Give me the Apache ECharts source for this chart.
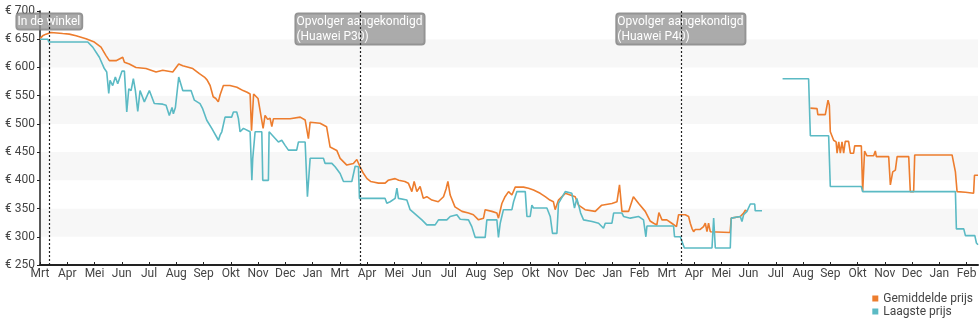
<!DOCTYPE html>
<html>
<head>
<meta charset="utf-8">
<script src="https://cdn.jsdelivr.net/npm/echarts@6/dist/echarts.min.js"></script>
<style>
html,body{margin:0;padding:0;background:#fff;}
#chart{width:980px;height:325px;}
</style>
</head>
<body>
<div id="chart"></div>
<script>
// x values are days since the start of the axis; each axis tick is 31 days apart
const tickLabels = ['Mrt','Apr','Mei','Jun','Jul','Aug','Sep','Okt','Nov','Dec','Jan',
  'Mrt','Apr','Mei','Jun','Jul','Aug','Sep','Okt','Nov','Dec','Jan','Feb',
  'Mrt','Apr','Mei','Jun','Jul','Aug','Sep','Okt','Nov','Dec','Jan','Feb'];
const tickStep = 31;
const xMax = 1067;

const yTicks = [250, 300, 350, 400, 450, 500, 550, 600, 650, 700];

const annotationDays = [10.6, 364, 729];
const annotationTexts = ['In de winkel', 'Opvolger aangekondigd\n(Huawei P30)', 'Opvolger aangekondigd\n(Huawei P40)'];

const seriesNames = ['Gemiddelde prijs', 'Laagste prijs'];

// [day, price in euro]
const gemiddeldePrijs = [
  [0,651],[3,656],[6.8,659],[12.5,662],[25.8,660],[33.3,659],[41,656],[52.3,651],[61.8,645],[69.4,636],
  [75.1,621],[78.9,612],[86.5,612],[94.1,618],[96,609],[101.6,606],[109.2,600],[120.6,598],[132,592],
  [139.6,595],[151,592],[157.8,606],[162.4,603],[173.8,598],[181.3,589],[187,583],[190,578],[193.5,568],
  [197,548],[200,545],[202.8,539],[205,552],[208.6,568],[216,568],[224,565],[231,559],[235.6,556],[239,553],
  [240.6,488],[243,553],[248,545],[250,542],[253.8,492],[256,515],[259,508],[261.7,510],[263.7,495],
  [265.5,509],[284.5,509],[296,512],[301.6,507],[305.3,474],[307.3,503],[318.6,501],[326,495],[330,459],
  [337.6,453],[341.4,439],[349,427],[356.5,430],[360.4,437],[362.4,436],[364,424],[368,412],[372,403],
  [376,398],[379,397],[385,395],[392.6,395],[396,400],[404,403],[408,400],[415,398],[419,395],[423,380],
  [425.6,398],[428.7,380],[432.4,389],[436,368],[440,371],[445.8,365],[453,362],[459,371],[462,385],
  [464,398],[466.6,374],[472,353],[480,345],[487.4,342],[493,339],[498.8,330],[504.5,333],[506.4,348],
  [514,345],[519.7,342],[521.5,333],[525.4,359],[529,371],[533,380],[536.8,374],[540.6,388],[550,388],
  [555.7,386],[561.4,383],[569,377],[574.7,371],[580,365],[584,362],[586,348],[589.8,365],[597.5,377],
  [608.8,371],[612.6,356],[620,348],[631.6,345],[639,356],[650.6,359],[656.3,362],[659.2,392],[662,345],
  [669.5,345],[675,371],[681,359],[688.5,345],[694,328],[698,324],[701.7,321],[704,343],[707.5,330],
  [713,330],[718.6,324],[720.7,324],[724,318],[726.4,339],[734,339],[737.8,336],[739.7,324],[741.6,315],
  [743.5,309],[745.4,313],[751,313],[754.8,318],[756.8,324],[758.7,309],[760.5,324],[762.5,309],
  [764.4,307.6],[785,307.6],[786.3,333],[796.6,336],[798.5,338],[800.4,342],[802.3,347],[804.2,345],
  null,
  [876.3,528],[883.9,527],[884.8,516.5],[893.3,516.5],[895.3,533],[896.4,542],[897.9,533],[899,486],
  [902.8,471],[905.6,468],[906.7,448],[908.6,468],[910.4,448],[912.3,468],[914.2,448],[916,469],
  [919.8,469],[921.8,448],[925.5,448],[926.7,461],[934.3,461],[935.8,380],[938,452],[940.7,443.5],
  [948.3,443.5],[950.2,452],[951.4,442],[965.4,442],[967.3,392],[969.2,389],[970,415],[973,418],
  [975,442],[988.2,442],[990,380],[993.8,380],[995,445],[1037.5,445],[1041.3,415],[1043.2,380],
  [1052.7,379],[1054.6,377],[1062,377],[1063,409],[1067,409]
];

const laagstePrijs = [
  [0,650],[9,650],[10,645],[54.3,645],[60,636],[67.5,618],[73.2,598],[75.9,592],[78.2,554],[79.7,577],
  [82.7,568],[85.7,583],[88.4,571],[93.3,593.5],[96,593.5],[98.7,521],[101,562],[103.6,559],[106.2,580],
  [108.5,559],[111.2,522],[113.8,559],[118.7,539],[124.4,559],[130,536],[139.6,535],[143.4,533],
  [147.1,515],[150.2,529],[151.7,518],[154,529],[157.8,583],[162.4,559],[171.8,559],[175.6,542],
  [182,536],[185,527],[189.7,506.5],[195.4,492],[203,471],[204.8,480],[206.8,486],[210.5,512],[218,512],
  [220,521],[223.8,521],[225.7,509.5],[227.6,486],[231.4,492],[239,486],[241,400],[242,439],[244.7,486],
  [252.3,486],[253.4,400],[259.8,400],[260.6,486],[271.2,468],[275,471],[278.8,462],[282.6,453.5],
  [292,453.5],[294,468],[301.6,468],[304.2,371],[307.3,439],[322.4,439],[324.3,430],[332,430],
  [335.7,424],[341.4,412],[345.2,398],[354.7,398],[358.5,425],[362.2,424],[363.4,368],[392.6,368],
  [394.5,359.4],[398.3,362],[404,368],[406,386],[407.7,368],[417.3,365],[421,348],[434.4,330],[440,321],
  [449.5,321],[453.3,330],[462.8,330],[466.6,336],[474.2,339],[478,331],[487.4,330],[491.2,318],
  [495,299],[506.4,299],[508.3,330],[519.7,330],[521.5,299],[523.5,324],[527.2,348],[536.8,348],
  [538.7,362],[542.5,380],[552,380],[553.9,336],[557.6,336],[559.5,356],[561.4,351],[576.6,351],
  [580.4,336],[583,306],[588,306],[589.8,359],[597.5,380],[605,377],[608,351],[610.7,368],[615,342],
  [618.3,330],[628,327],[635.4,324],[641,315],[643,324],[650.6,324],[652.5,342],[662,342],[663.8,336],
  [671.4,333],[673.3,336],[680.8,336],[686.5,330],[689.2,300],[690.4,319],[720.7,319],[721.8,300],
  [728.3,300],[733,280],[764.4,280],[766.3,333],[768.2,280],[785.2,280],[786.3,333],[796.6,336],
  [798.5,327],[800.4,339],[804.2,345],[808,358],[813,358],[813.6,346],[821.3,346],
  null,
  [844.7,580],[874.3,580],[876.3,479],[897.1,479],[899,389],[934.3,389],[935.8,380],[1041.3,380],
  [1042.4,314],[1050.8,314],[1052.7,302],[1063.4,302],[1065.2,289],[1067,286]
];

const colors = ['#ed7d2e', '#5bbac4'];
const tickDays = tickLabels.map((_, i) => i * tickStep);
const textColor = '#444';
const font = 'Roboto';

const chart = echarts.init(document.getElementById('chart'), null, {renderer: 'canvas'});
chart.setOption({
  animation: false,
  color: colors,
  textStyle: {fontFamily: font},
  grid: {left: 40, right: 2, top: 11, bottom: 60, containLabel: false},
  legend: {
    data: seriesNames,
    orient: 'vertical',
    right: 7,
    top: 292,
    icon: 'rect',
    itemWidth: 6,
    itemHeight: 6,
    itemGap: 0,
    padding: 0,
    textStyle: {fontFamily: font, fontSize: 12, color: textColor, lineHeight: 13}
  },
  xAxis: {
    type: 'value',
    min: 0,
    max: xMax,
    interval: tickStep,
    axisLine: {show: true, lineStyle: {color: '#222', width: 2}},
    axisTick: {show: true, inside: true, length: 3, lineStyle: {color: '#222'}, customValues: tickDays},
    axisLabel: {
      customValues: tickDays,
      margin: 3,
      color: textColor,
      fontSize: 12,
      fontFamily: font,
      formatter: v => {
        const i = Math.round(v / tickStep);
        return (Math.abs(v - i * tickStep) < 0.01 && tickLabels[i]) ? tickLabels[i] : '';
      }
    },
    splitLine: {show: false}
  },
  yAxis: {
    type: 'value',
    min: yTicks[0],
    max: yTicks[yTicks.length - 1],
    interval: yTicks[1] - yTicks[0],
    axisLine: {show: true, lineStyle: {color: '#222', width: 1.5}},
    axisTick: {show: true, length: 3, lineStyle: {color: '#222'}},
    axisLabel: {margin: 5, color: textColor, fontSize: 12, fontFamily: font, formatter: '€ {value}'},
    splitLine: {show: false},
    splitArea: {show: true, areaStyle: {color: ['#ffffff', '#f7f7f7']}}
  },
  series: [
    {
      name: seriesNames[0],
      type: 'line',
      data: gemiddeldePrijs,
      showSymbol: false,
      symbol: 'none',
      connectNulls: false,
      lineStyle: {width: 1.6, color: colors[0]},
      itemStyle: {color: colors[0]},
      z: 2,
      markLine: {
        silent: true,
        symbol: ['none', 'none'],
        label: {show: false},
        lineStyle: {type: [2, 2], color: '#222', width: 1.2},
        data: annotationDays.map(d => ({xAxis: d})),
        z: 6
      },
      markPoint: {
        silent: true,
        symbol: 'circle',
        symbolSize: 1,
        itemStyle: {color: 'rgba(0,0,0,0)'},
        z: 5,
        label: {
          show: true,
          position: 'bottom',
          distance: 2,
          backgroundColor: 'rgba(150,150,150,0.8)',
          borderColor: 'rgba(120,120,120,0.8)',
          borderWidth: 1,
          borderRadius: 3,
          padding: [1, 2, 0, 1],
          formatter: p => p.data.text.split('\n').map(s => '{t|' + s + '}').join('\n'),
          rich: {t: {color: '#fff', fontSize: 12, lineHeight: 15, align: 'left', fontFamily: font}}
        },
        data: annotationDays.map((d, i) => ({coord: [d, yTicks[yTicks.length - 1]], text: annotationTexts[i]}))
      }
    },
    {
      name: seriesNames[1],
      type: 'line',
      data: laagstePrijs,
      showSymbol: false,
      symbol: 'none',
      connectNulls: false,
      lineStyle: {width: 1.6, color: colors[1]},
      itemStyle: {color: colors[1]},
      z: 3
    }
  ]
});
</script>
</body>
</html>
